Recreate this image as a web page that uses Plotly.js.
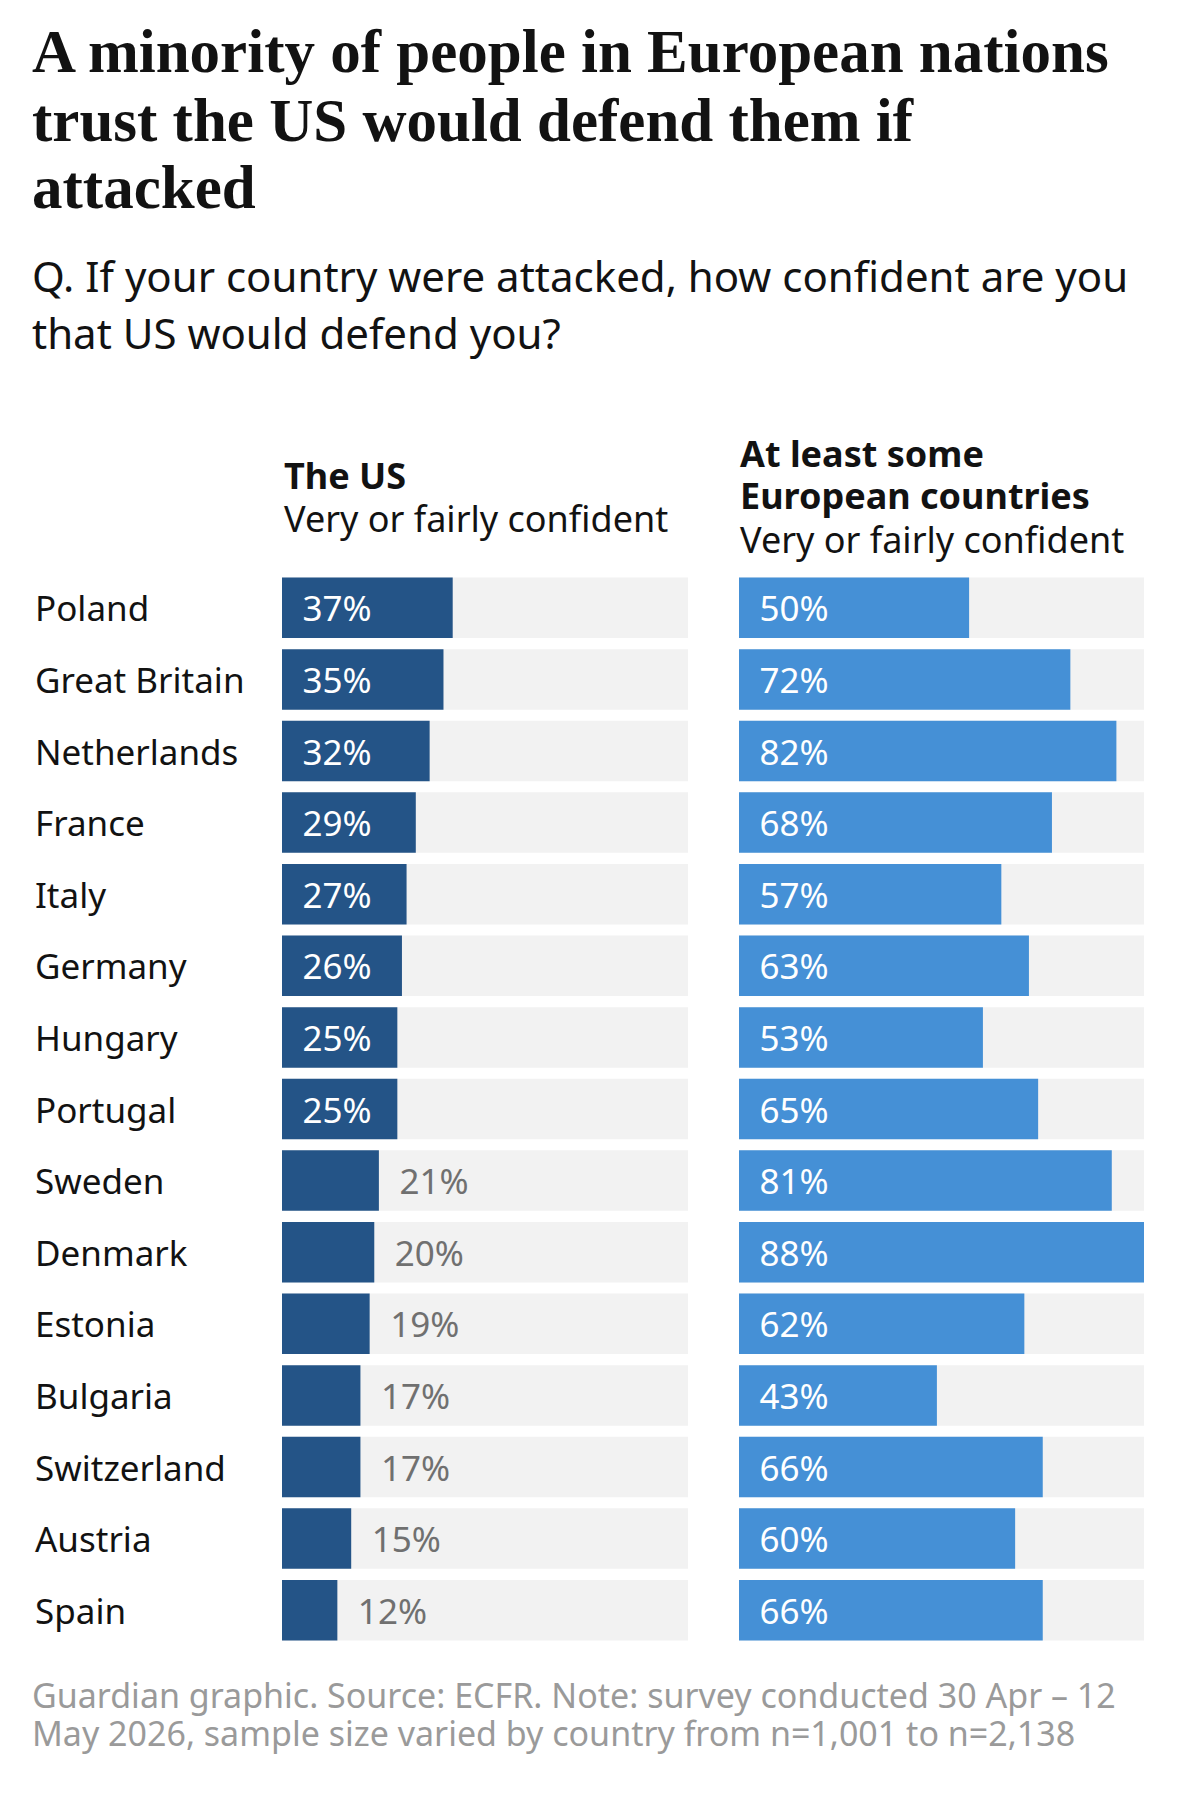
<!DOCTYPE html>
<html>
<head>
<meta charset="utf-8">
<script src="https://cdn.plot.ly/plotly-3.0.1.min.js"></script>
<style>body{margin:0;background:#fff}</style>
</head>
<body>
<div id="chart" style="width:1179px;height:1809px"></div>
<script>
var countries = ["Poland", "Great Britain", "Netherlands", "France", "Italy", "Germany", "Hungary",
    "Portugal", "Sweden", "Denmark", "Estonia", "Bulgaria", "Switzerland", "Austria", "Spain"];
var usValues = [37, 35, 32, 29, 27, 26, 25, 25, 21, 20, 19, 17, 17, 15, 12];
var euValues = [50, 72, 82, 68, 57, 63, 53, 65, 81, 88, 62, 43, 66, 60, 66];
var maxValue = 88;

var W = 1179, H = 1809;
function px(x) { return x / W; }
function py(y) { return 1 - y / H; }

var font = "Noto Sans, sans-serif";
var pad = "\u2002";

function bgTrace(xa) {
    return {
        type: "bar", orientation: "h", xaxis: xa, yaxis: "y",
        y: countries, x: countries.map(() => maxValue),
        marker: { color: "#f2f2f2" }, hoverinfo: "skip", showlegend: false
    };
}

function valueTrace(vals, xa, color, insideAll) {
    var inside = vals.map((v) => insideAll || v >= 25);
    return {
        type: "bar", orientation: "h", xaxis: xa, yaxis: "y",
        y: countries, x: vals,
        text: vals.map((v) => pad + v + "%"),
        textposition: inside.map((b) => b ? "inside" : "outside"),
        insidetextanchor: "start",
        constraintext: "none",
        cliponaxis: false,
        textfont: {
            family: font, size: 35,
            color: inside.map((b) => b ? "#ffffff" : "#707070")
        },
        marker: { color: color }, hoverinfo: "skip", showlegend: false
    };
}

var data = [
    bgTrace("x"), valueTrace(usValues, "x", "#245487", false),
    bgTrace("x2"), valueTrace(euValues, "x2", "#4590d6", true)
];

var annotations = [];
function note(text, x, y, size, color, opts) {
    annotations.push(Object.assign({
        text: text, xref: "paper", yref: "paper", x: px(x), y: py(y),
        xanchor: "left", yanchor: "middle", showarrow: false, align: "left",
        font: { family: font, size: size, color: color }
    }, opts || {}));
}

var titleFont = "Liberation Serif, serif";
["A minority of people in European nations", "trust the US would defend them if", "attacked"]
    .forEach((t, i) => note("<b>" + t + "</b>", 30, 52 + i * 68, 61, "#121212",
        { font: { family: titleFont, size: 61, color: "#121212" } }));
note("Q. If your country were attacked, how confident are you", 30, 276, 42, "#121212");
note("that US would defend you?", 30, 333, 42, "#121212");

note("<b>The US</b>", 282, 475, 36, "#121212");
note("Very or fairly confident", 282, 518, 36, "#121212");
note("<b>At least some</b>", 738, 454, 36, "#121212");
note("<b>European countries</b>", 738, 496, 36, "#121212");
note("Very or fairly confident", 738, 539, 36, "#121212");

countries.forEach((c) => {
    annotations.push({
        text: c, xref: "paper", yref: "y", x: px(33), y: c,
        xanchor: "left", yanchor: "middle", showarrow: false,
        font: { family: font, size: 35, color: "#121212" }
    });
});

note("Guardian graphic. Source: ECFR. Note: survey conducted 30 Apr \u2013 12", 30, 1695, 34, "#9a9a9a");
note("May 2026, sample size varied by country from n=1,001 to n=2,138", 30, 1733, 34, "#9a9a9a");

var axisX = { range: [0, maxValue], showgrid: false, zeroline: false, showticklabels: false, fixedrange: true };

var layout = {
    width: W, height: H,
    margin: { l: 0, r: 0, t: 0, b: 0 },
    paper_bgcolor: "#ffffff", plot_bgcolor: "#ffffff",
    barmode: "overlay", bargap: 0.155,
    xaxis: Object.assign({ domain: [px(282), px(688)], anchor: "y" }, axisX),
    xaxis2: Object.assign({ domain: [px(739), px(1144)], anchor: "y" }, axisX),
    yaxis: {
        domain: [py(1646), py(572)], range: [14.5, -0.5], type: "category",
        showticklabels: false, showgrid: false, zeroline: false
    },
    annotations: annotations
};

Plotly.newPlot("chart", data, layout, { displayModeBar: false, staticPlot: true });
</script>
</body>
</html>
